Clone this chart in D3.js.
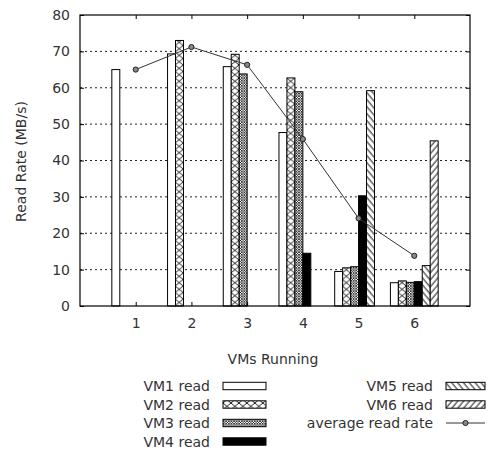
<!DOCTYPE html>
<html>
<head>
<meta charset="utf-8">
<script src="https://cdn.jsdelivr.net/npm/d3@7"></script>
<style>
  body { margin: 0; background: #fff; }
  text { font-family: "DejaVu Sans", sans-serif; font-size: 14px; fill: #333; }
</style>
</head>
<body>
<div id="chart"></div>
<script>
// read rates per VM (MB/s), one entry per "VMs Running" value
var vms = [1, 2, 3, 4, 5, 6];
var vm1 = [65, 69.3, 65.8, 47.7, 9.5, 6.4];
var vm2 = [null, 73, 69.2, 62.7, 10.5, 6.9];
var vm3 = [null, null, 63.8, 58.9, 10.8, 6.5];
var vm4 = [null, null, null, 14.5, 30.3, 6.7];
var vm5 = [null, null, null, null, 59.2, 11.1];
var vm6 = [null, null, null, null, null, 45.4];
var avg = [65, 71.2, 66.3, 45.9, 24.1, 13.8];
var y_ticks = [0, 10, 20, 30, 40, 50, 60, 70, 80];
var series_names = ['VM1 read', 'VM2 read', 'VM3 read', 'VM4 read', 'VM5 read', 'VM6 read'];

var series = [vm1, vm2, vm3, vm4, vm5, vm6];
var fills = ['#fff', 'url(#p_cross)', 'url(#p_fine)', '#000', 'url(#p_back)', 'url(#p_fwd)'];

var width = 492, height = 450;
var svg = d3.select('#chart').append('svg')
  .attr('width', width)
  .attr('height', height);

// patterns
var defs = svg.append('defs');
var pc = defs.append('pattern').attr('id', 'p_cross')
  .attr('patternUnits', 'userSpaceOnUse')
  .attr('x', 0.1).attr('width', 7.96).attr('height', 6.5);
pc.append('rect').attr('width', 7.96).attr('height', 6.5).attr('fill', '#fff');
pc.append('path').attr('d', 'M0,0L7.96,6.5M7.96,0L0,6.5')
  .attr('stroke', '#000').attr('stroke-width', 0.9);

var pf = defs.append('pattern').attr('id', 'p_fine')
  .attr('patternUnits', 'userSpaceOnUse')
  .attr('width', 2.6).attr('height', 2.6);
pf.append('rect').attr('width', 2.6).attr('height', 2.6).attr('fill', '#fff');
pf.append('path').attr('d', 'M0,0L2.6,2.6M2.6,0L0,2.6')
  .attr('stroke', '#000').attr('stroke-width', 0.7);

[['p_back', -40], ['p_fwd', 40]].forEach(function(p) {
  var pat = defs.append('pattern').attr('id', p[0])
    .attr('patternUnits', 'userSpaceOnUse')
    .attr('width', 4.5).attr('height', 4.5)
    .attr('patternTransform', 'rotate(' + p[1] + ')');
  pat.append('rect').attr('width', 4.5).attr('height', 4.5).attr('fill', '#fff');
  pat.append('line').attr('x1', 1).attr('x2', 1).attr('y1', 0).attr('y2', 4.5)
    .attr('stroke', '#000').attr('stroke-width', 0.9);
});

// scales
var x = d3.scaleLinear().domain([0, 7]).range([80, 470]);
var y = d3.scaleLinear().domain([0, 80]).range([306, 15]);
var bw = (x(1) - x(0)) / 7;

// grid
svg.append('g').selectAll('line')
  .data(y_ticks.slice(1, -1))
  .enter().append('line')
  .attr('x1', x(0)).attr('x2', x(7))
  .attr('y1', function(d) { return y(d); })
  .attr('y2', function(d) { return y(d); })
  .attr('stroke', '#222')
  .attr('stroke-width', 1)
  .attr('stroke-dasharray', '2,3');

// bars
series.forEach(function(vals, j) {
  svg.append('g').selectAll('rect')
    .data(vals.map(function(v, i) { return {x: vms[i], v: v}; })
      .filter(function(d) { return d.v != null; }))
    .enter().append('rect')
    .attr('x', function(d) { return x(d.x) + (j - 3) * bw; })
    .attr('y', function(d) { return y(d.v); })
    .attr('width', bw)
    .attr('height', function(d) { return y(0) - y(d.v); })
    .attr('fill', fills[j])
    .attr('stroke', '#000')
    .attr('stroke-width', 1);
});

// average line
var line = d3.line()
  .x(function(d, i) { return x(vms[i]); })
  .y(function(d) { return y(d); });
svg.append('path').datum(avg)
  .attr('d', line)
  .attr('fill', 'none')
  .attr('stroke', '#333')
  .attr('stroke-width', 1);
svg.append('g').selectAll('circle')
  .data(avg).enter().append('circle')
  .attr('cx', function(d, i) { return x(vms[i]); })
  .attr('cy', function(d) { return y(d); })
  .attr('r', 2.6)
  .attr('fill', '#888')
  .attr('stroke', '#222')
  .attr('stroke-width', 1);

// axes
var yAxis = d3.axisLeft(y).tickValues(y_ticks).tickSize(-4).tickPadding(10);
svg.append('g').attr('transform', 'translate(' + x(0) + ',0)').call(yAxis);
svg.append('g').attr('transform', 'translate(' + x(7) + ',0)')
  .call(d3.axisRight(y).tickValues(y_ticks).tickSize(-4).tickFormat(''));
var xAxis = d3.axisBottom(x).tickValues(vms).tickFormat(d3.format('d'))
  .tickSize(-4).tickPadding(12);
svg.append('g').attr('transform', 'translate(0,' + y(0) + ')').call(xAxis);
svg.append('g').attr('transform', 'translate(0,' + y(80) + ')')
  .call(d3.axisTop(x).tickValues(vms).tickSize(-4).tickFormat(''));
svg.selectAll('.domain').remove();
svg.selectAll('.tick line').attr('stroke', '#000');
svg.selectAll('.tick text').style('font-size', '14px').attr('fill', '#333')
  .style('font-family', '"DejaVu Sans", sans-serif');

svg.append('rect')
  .attr('x', x(0)).attr('y', y(80))
  .attr('width', x(7) - x(0)).attr('height', y(0) - y(80))
  .attr('fill', 'none').attr('stroke', '#000').attr('stroke-width', 1.2);

// axis titles
svg.append('text')
  .attr('transform', 'translate(26,' + (y(40) + 1) + ') rotate(-90)')
  .attr('text-anchor', 'middle')
  .text('Read Rate (MB/s)');
svg.append('text')
  .attr('x', (x(0) + x(7)) / 2 - 2).attr('y', 364)
  .attr('text-anchor', 'middle')
  .text('VMs Running');

// legend
var legend_items = series_names.map(function(n, j) { return {name: n, fill: fills[j], kind: 'bar'}; });
legend_items.push({name: 'average read rate', kind: 'line'});
var col1 = {textX: 210, boxX: 223, boxW: 43};
var col2 = {textX: 433, boxX: 446, boxW: 39};
var rowY = [386, 404.5, 423, 441.5];

legend_items.forEach(function(it, k) {
  var col = k < 4 ? col1 : col2;
  var cy = rowY[k < 4 ? k : k - 4];
  var g = svg.append('g');
  g.append('text').attr('x', col.textX).attr('y', cy + 5)
    .attr('text-anchor', 'end').text(it.name);
  if (it.kind === 'bar') {
    g.append('rect').attr('x', col.boxX).attr('y', cy - 3.7)
      .attr('width', col.boxW).attr('height', 7.4)
      .attr('fill', it.fill).attr('stroke', '#000').attr('stroke-width', 1);
  } else {
    g.append('line').attr('x1', col.boxX).attr('x2', col.boxX + col.boxW)
      .attr('y1', cy).attr('y2', cy).attr('stroke', '#333').attr('stroke-width', 1);
    g.append('circle').attr('cx', col.boxX + col.boxW / 2).attr('cy', cy).attr('r', 2.6)
      .attr('fill', '#888').attr('stroke', '#222');
  }
});
</script>
</body>
</html>
